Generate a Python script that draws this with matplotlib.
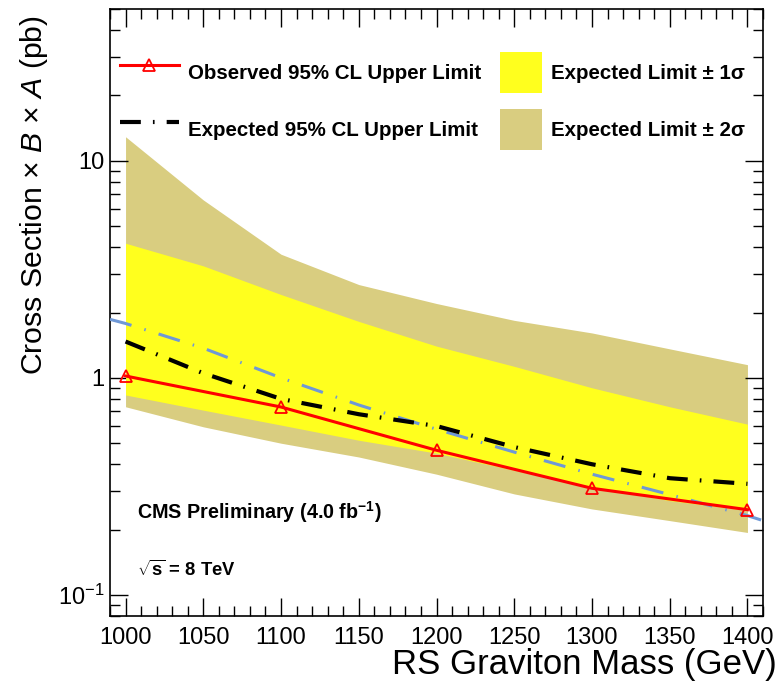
import matplotlib
matplotlib.use('Agg')
import matplotlib.pyplot as plt
from matplotlib.patches import Rectangle, Patch
from matplotlib.lines import Line2D
from matplotlib.legend_handler import HandlerPatch
from matplotlib.ticker import FixedLocator, FixedFormatter, MultipleLocator, LogLocator, NullFormatter

plt.rcParams['font.family'] = ['Liberation Sans', 'DejaVu Sans']
plt.rcParams['mathtext.fontset'] = 'custom'
plt.rcParams['mathtext.rm'] = 'Liberation Sans'
plt.rcParams['mathtext.it'] = 'Liberation Sans:italic'
plt.rcParams['mathtext.bf'] = 'Liberation Sans:bold'
plt.rcParams['mathtext.default'] = 'regular'

# ---------------- data ----------------
mass = [1000, 1050, 1100, 1150, 1200, 1250, 1300, 1350, 1400]
exp_minus2 = [0.736, 0.595, 0.50, 0.432, 0.36, 0.292, 0.249, 0.22, 0.194]
exp_minus1 = [0.834, 0.71, 0.606, 0.516, 0.45, 0.375, 0.314, 0.272, 0.245]
exp_plus1 = [4.17, 3.28, 2.42, 1.82, 1.40, 1.13, 0.90, 0.736, 0.612]
exp_plus2 = [12.9, 6.6, 3.71, 2.69, 2.2, 1.84, 1.61, 1.36, 1.15]
expected = [1.47, 1.05, 0.80, 0.68, 0.60, 0.48, 0.40, 0.345, 0.325]

obs_mass = [1000, 1100, 1200, 1300, 1400]
observed = [1.02, 0.734, 0.464, 0.31, 0.247]

theory_mass = [990, 1000, 1050, 1100, 1150, 1200, 1250, 1300, 1350, 1400, 1410]
theory = [1.86, 1.78, 1.37, 1.00, 0.75, 0.58, 0.455, 0.36, 0.29, 0.232, 0.22]

x_ticks = [1000, 1050, 1100, 1150, 1200, 1250, 1300, 1350, 1400]
x_tick_labels = ['1000', '1050', '1100', '1150', '1200', '1250', '1300', '1350', '1400']
y_ticks = [0.1, 1, 10]
y_tick_labels = ['$10^{-1}$', '1', '10']

legend_labels = ['Observed 95% CL Upper Limit', 'Expected 95% CL Upper Limit',
                 'Expected Limit \u00b1 1\u03c3', 'Expected Limit \u00b1 2\u03c3']

YELLOW = '#FFFF1E'
KHAKI = '#D9CD80'
BLUE = '#6F98D6'

# ---------------- figure ----------------
W, H = 778, 698
fig = plt.figure(figsize=(W / 100, H / 100), dpi=100)
ax = fig.add_axes([110 / W, 1 - 616 / H, 653 / W, 607 / H])

ax.fill_between(mass, exp_minus2, exp_plus2, color=KHAKI, lw=0, zorder=1)
ax.fill_between(mass, exp_minus1, exp_plus1, color=YELLOW, lw=0, zorder=2)
ax.plot(theory_mass, theory, color=BLUE, lw=2.2, dashes=(7.3, 4.4, 0.5, 4.4), zorder=3)
exp_line, = ax.plot(mass, expected, color='black', lw=3, dashes=(5, 2.9, 0.4, 2.9), zorder=4)
obs_line, = ax.plot(obs_mass, observed, color='red', lw=2.2, marker='^', mfc='none',
                    mec='red', ms=9, mew=1.3, zorder=5)

ax.set_yscale('log')
ax.set_xlim(990, 1410)
ax.set_ylim(0.08, 50)

ax.xaxis.set_major_locator(FixedLocator(x_ticks))
ax.xaxis.set_major_formatter(FixedFormatter(x_tick_labels))
ax.xaxis.set_minor_locator(MultipleLocator(10))
ax.yaxis.set_major_locator(FixedLocator(y_ticks))
ax.yaxis.set_major_formatter(FixedFormatter(y_tick_labels))
ax.yaxis.set_minor_locator(LogLocator(base=10, subs=[2, 3, 4, 5, 6, 7, 8, 9]))
ax.yaxis.set_minor_formatter(NullFormatter())

ax.tick_params(which='both', direction='in', top=True, right=True, width=1.0, colors='black')
ax.tick_params(which='major', length=13, labelsize=17)
ax.tick_params(axis='x', which='major', pad=8)
ax.tick_params(axis='y', which='major', pad=4)
ax.tick_params(which='minor', length=7)
for s in ax.spines.values():
    s.set_linewidth(1.2)

ax.set_xlabel('RS Graviton Mass (GeV)', fontsize=25, ha='right')
ax.xaxis.set_label_coords(1.021, -0.053)
ax.set_ylabel(r'Cross Section × $\mathit{B}$ × $\mathit{A}$ (pb)', fontsize=21.8, loc='top')
ax.yaxis.set_label_coords(-0.092, 0.99)


class BoxHandler(HandlerPatch):
    def __init__(self, w_frac, **kw):
        super().__init__(**kw)
        self.w_frac = w_frac

    def create_artists(self, legend, orig_handle, xdescent, ydescent, width, height, fontsize, trans):
        w = width * self.w_frac
        p = Rectangle((-xdescent + width - w, -ydescent), w, height,
                      facecolor=orig_handle.get_facecolor(), edgecolor='none', transform=trans)
        return [p]


yellow_patch = Patch(facecolor=YELLOW)
khaki_patch = Patch(facecolor=KHAKI)
leg = ax.legend([obs_line, exp_line, yellow_patch, khaki_patch], legend_labels, ncol=2,
                loc='upper left', bbox_to_anchor=(0.0153, 0.929), frameon=False,
                borderpad=0, borderaxespad=0, handlelength=2.85, handleheight=2.66,
                handletextpad=0.45, labelspacing=0.8, columnspacing=0.1,
                prop={'weight': 'bold', 'size': 14.8},
                handler_map={Patch: BoxHandler(0.72)})

ax.text(0.041, 0.171, 'CMS Preliminary (4.0 fb$^{-1}$)', transform=ax.transAxes,
        fontsize=14.2, fontweight='bold', va='center', ha='left')
ax.text(0.041, 0.0758, r'$\sqrt{s}$ = 8 TeV', transform=ax.transAxes,
        fontsize=13.2, fontweight='bold', va='center', ha='left')

fig.savefig('out.png', dpi=100)
